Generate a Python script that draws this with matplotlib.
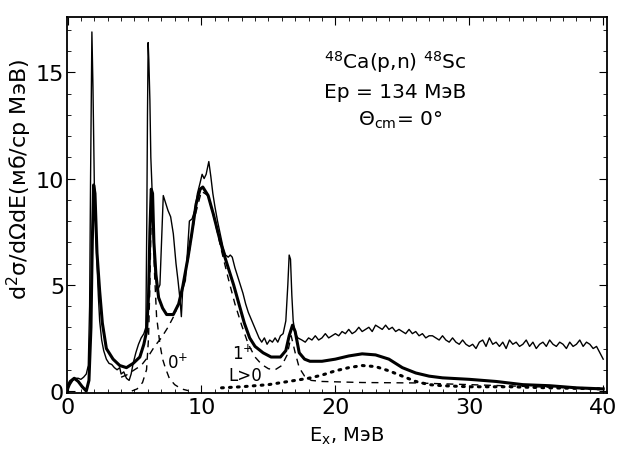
import numpy as np
import matplotlib.pyplot as plt
from matplotlib.ticker import MultipleLocator

## Experimental spectrum (thin line), peak region read point by point
exp_x = [0.0, 0.2, 0.4, 0.6, 0.8, 1.0, 1.2, 1.4, 1.55, 1.65, 1.72, 1.78, 1.82, 1.86,
         1.9, 1.95, 2.0, 2.1, 2.2, 2.3, 2.4, 2.55, 2.7, 2.9, 3.1, 3.3, 3.5, 3.7, 3.9,
         4.0, 4.2, 4.4, 4.6, 4.75, 4.9, 5.1, 5.3, 5.5, 5.7, 5.85, 5.92, 5.97, 6.02,
         6.07, 6.15, 6.22, 6.3, 6.4, 6.5, 6.7, 6.9, 7.05, 7.15, 7.3, 7.5, 7.7, 7.9,
         8.1, 8.25, 8.4, 8.5, 8.6, 8.8, 8.95, 9.1, 9.3, 9.5, 9.7, 9.9, 10.05, 10.2,
         10.35, 10.55, 10.7, 10.85, 11.0, 11.2, 11.4, 11.6, 11.8, 12.0, 12.15, 12.3,
         12.5, 12.7, 12.9, 13.1, 13.3, 13.5, 13.7, 13.9, 14.1, 14.3, 14.5, 14.7, 14.9,
         15.1, 15.3, 15.5, 15.7, 15.9, 16.1, 16.3, 16.45, 16.55, 16.65, 16.75, 16.85,
         17.0, 17.2]
exp_y = [0.0, 0.3, 0.5, 0.6, 0.6, 0.55, 0.65, 0.8, 1.2, 4.0, 10.0, 14.3, 16.9, 15.5,
         14.3, 12.0, 9.8, 8.0, 6.0, 4.5, 3.3, 2.4, 1.9, 1.5, 1.3, 1.25, 1.1, 1.0, 1.1,
         0.8, 0.9, 0.6, 0.5, 0.8, 1.3, 1.8, 2.2, 2.5, 2.7, 3.0, 8.0, 13.0, 16.4,
         15.6, 13.7, 11.0, 9.7, 7.5, 5.9, 4.7, 5.0, 7.5, 9.2, 8.9, 8.5, 8.2, 7.4,
         6.0, 5.2, 4.3, 3.5, 4.8, 5.2, 6.5, 8.0, 8.1, 8.5, 9.3, 9.8, 10.2, 10.0,
         10.2, 10.8, 10.1, 9.3, 8.7, 8.0, 7.4, 6.8, 6.4, 6.3, 6.4, 6.3,
         5.8, 5.4, 5.0, 4.6, 4.1, 3.7, 3.4, 3.1, 2.8, 2.5, 2.3, 2.5, 2.2,
         2.4, 2.3, 2.5, 2.3, 2.6, 2.7, 3.3, 5.0, 6.4, 6.2, 4.5, 3.3,
         2.7, 2.5]

## Experimental spectrum tail, 0.25 MeV bins from 17.5 to 40
tail_x = np.linspace(17.5, 40.0, 91)
tail_y = [2.4, 2.3, 2.5, 2.4, 2.6, 2.4, 2.5, 2.7, 2.5, 2.6,
          2.7, 2.6, 2.8, 2.7, 2.9, 2.7, 2.8, 3.0, 2.8, 2.9,
          3.0, 2.8, 3.1, 3.0, 2.9, 3.1, 2.9, 3.0, 2.8, 2.9,
          2.8, 2.7, 2.9, 2.7, 2.8, 2.6, 2.7, 2.5, 2.6, 2.6,
          2.5, 2.4, 2.6, 2.4, 2.3, 2.5, 2.3, 2.2, 2.4, 2.2,
          2.1, 2.2, 2.0, 2.3, 2.4, 2.1, 2.5, 2.2, 2.3, 2.1,
          2.3, 2.0, 2.4, 2.2, 2.3, 2.1, 2.2, 2.4, 2.1, 2.3,
          2.0, 2.2, 2.3, 2.1, 2.4, 2.2, 2.1, 2.3, 2.2, 2.0,
          2.3, 2.1, 2.2, 2.4, 2.1, 2.3, 2.2, 2.0, 2.1, 1.8,
          1.5]

## Fit: total (thick line)
fit_x = [0.0, 0.2, 0.5, 0.8, 1.1, 1.4, 1.6, 1.75, 1.85, 1.95, 2.05, 2.2, 2.4, 2.6,
         2.9, 3.4, 3.9, 4.4, 4.9, 5.4, 5.7, 5.9, 6.05, 6.15, 6.25, 6.35, 6.45, 6.6,
         6.8, 7.1, 7.4, 7.9, 8.3, 8.6, 9.0, 9.3, 9.6, 9.9, 10.1, 10.5, 10.9, 11.3,
         11.6, 12.0, 12.4, 12.8, 13.2, 13.6, 14.0, 14.6, 15.2, 15.9, 16.3, 16.55,
         16.8, 17.0, 17.3, 17.7, 18.1, 19.0, 20.0, 21.0, 22.0, 23.0, 24.0, 25.0,
         26.0, 27.0, 28.0, 30.0, 32.0, 34.0, 36.0, 38.0, 40.0]
fit_y = [0.2, 0.45, 0.6, 0.45, 0.2, 0.0, 0.5, 3.0, 7.0, 9.7, 9.3, 6.5, 4.7, 3.2,
         2.0, 1.5, 1.2, 1.1, 1.3, 1.6, 2.2, 2.8, 4.5, 7.5, 9.5, 9.3, 7.0, 5.5,
         4.4, 3.9, 3.6, 3.6, 4.1, 4.9, 6.3, 7.5, 8.8, 9.5, 9.6, 9.2, 8.3, 7.3,
         6.6, 5.8, 5.0, 4.1, 3.2, 2.5, 2.1, 1.8, 1.6, 1.6, 1.9, 2.6,
         3.1, 2.8, 1.8, 1.5, 1.4, 1.4, 1.5, 1.65, 1.75, 1.7, 1.5, 1.1,
         0.85, 0.7, 0.62, 0.55, 0.45, 0.3, 0.25, 0.15, 0.1]

## Fit components
ias_x = [4.8, 5.2, 5.6, 5.9, 6.05, 6.15, 6.25, 6.3, 6.4, 6.5, 6.65, 6.9, 7.1, 7.3,
         7.6, 8.0, 8.5, 9.0]
ias_y = [0.0, 0.1, 0.4, 1.0, 2.5, 5.0, 8.5, 9.4, 8.0, 5.5, 3.5, 2.2, 1.5, 1.1,
         0.6, 0.3, 0.1, 0.02]

gt_x = [4.0, 4.4, 5.0, 5.5, 6.0, 6.5, 7.0, 7.5, 8.0, 8.5, 9.0, 9.5, 10.0, 10.5,
        11.0, 11.5, 12.0, 12.5, 13.0, 13.5, 14.0, 14.5, 15.0, 15.5, 16.0, 16.4,
        16.7, 17.0, 17.3, 17.7, 18.2, 19.0, 22.0, 26.0, 30.0, 35.0, 40.0]
gt_y = [0.65, 0.75, 1.0, 1.2, 1.6, 2.1, 2.5, 3.0, 3.6, 4.6, 6.2, 8.2, 9.4, 9.2,
        8.0, 6.6, 5.3, 4.1, 3.1, 2.2, 1.6, 1.25, 1.05, 1.0, 1.2, 1.7,
        2.6, 1.8, 1.1, 0.7, 0.5, 0.45, 0.4, 0.38, 0.3, 0.2, 0.1]

lgt0_x = [11.5, 13.0, 14.0, 15.0, 16.0, 17.0, 18.0, 19.0, 20.0, 21.0, 22.0, 23.0,
          24.0, 25.0, 26.0, 27.0, 28.0, 30.0, 33.0, 36.0, 40.0]
lgt0_y = [0.15, 0.2, 0.25, 0.3, 0.4, 0.5, 0.6, 0.75, 0.95, 1.1, 1.2, 1.15,
          0.95, 0.7, 0.45, 0.3, 0.25, 0.2, 0.2, 0.15, 0.1]

plt.rcParams['font.family'] = 'DejaVu Sans'

fig = plt.figure(figsize=(6.19, 4.52), dpi=100)
ax = fig.add_axes([0.108, 0.128, 0.873, 0.832])

ax.plot(exp_x + list(tail_x), exp_y + tail_y, color='black', lw=1.0)
ax.plot(fit_x, fit_y, color='black', lw=2.2)
ax.plot(ias_x, ias_y, color='black', lw=1.0, dashes=(5, 4))
ax.plot(gt_x, gt_y, color='black', lw=1.0, dashes=(5, 4))
ax.plot(lgt0_x, lgt0_y, color='black', lw=2.2, linestyle=(0, (0.6, 2.0)),
        dash_capstyle='round')

ax.text(7.4, 1.1, '0$^{+}$', fontsize=12)
ax.text(12.3, 1.5, '1$^{+}$', fontsize=12)
ax.text(12.0, 0.5, 'L>0', fontsize=12)

ax.text(0.607, 0.883, '$^{48}$Ca(p,n) $^{48}$Sc', transform=ax.transAxes,
        ha='center', va='center', fontsize=14.5)
ax.text(0.607, 0.803, 'Ep = 134 МэВ', transform=ax.transAxes,
        ha='center', va='center', fontsize=14.5)
ax.text(0.617, 0.729, 'Θ$_{\\rm cm}$= 0°', transform=ax.transAxes,
        ha='center', va='center', fontsize=14.5)

ax.set_xlim(-0.05, 40.3)
ax.set_ylim(-0.1, 17.6)
ax.set_xticks([0, 10, 20, 30, 40])
ax.set_yticks([0, 5, 10, 15])
ax.xaxis.set_minor_locator(MultipleLocator(1))
ax.yaxis.set_minor_locator(MultipleLocator(1))
ax.tick_params(which='both', direction='in', top=True, right=True)
ax.tick_params(which='major', length=6, labelsize=16, pad=3)
ax.tick_params(axis='y', which='major', pad=2)
ax.tick_params(which='minor', length=3)
for s in ax.spines.values():
    s.set_linewidth(1.3)

ax.set_xlabel('E$_{\\rm x}$, МэВ', fontsize=14)
ax.xaxis.set_label_coords(0.517, -0.085)
ax.set_ylabel('d$^{2}$σ/dΩdE(мб/ср МэВ)', fontsize=16)
ax.yaxis.set_label_coords(-0.06, 0.57)

fig.savefig('out.png', dpi=100)
